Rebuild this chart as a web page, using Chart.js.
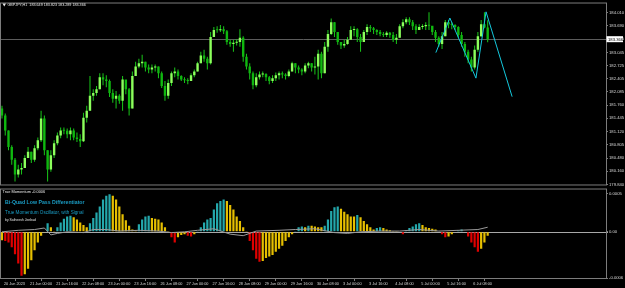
<!DOCTYPE html>
<html>
<head>
<meta charset="utf-8">
<script src="https://cdn.jsdelivr.net/npm/chart.js@4"></script>
<style>
  html, body { margin: 0; padding: 0; background: #000; width: 625px; height: 288px; overflow: hidden; }
  canvas { position: absolute; left: 0; }
  #main { top: 0; }
  #sub { top: 186px; }
</style>
</head>
<body>
<canvas id="main" width="625" height="188"></canvas>
<canvas id="sub" width="625" height="102"></canvas>
<script>
(() => {
  "use strict";

// ---- data (GBPJPY H1) ----
const symbol = "GBPJPY";
const period = "H1";

const opens = [
  181.68, 181.51, 181.15, 180.75, 180.44, 180.08, 180.20, 180.24, 180.48, 180.63,
  180.44, 180.72, 180.91, 181.44, 180.67, 180.20, 180.55, 180.84, 181.03, 181.15,
  181.14, 181.06, 181.15, 180.98, 180.94, 180.89, 181.46, 181.63, 181.99, 182.06,
  182.15, 182.44, 182.39, 182.35, 182.06, 181.92, 181.99, 181.87, 182.39, 182.15,
  181.68, 182.47, 182.70, 182.78, 182.82, 182.68, 182.63, 182.68, 182.70, 182.54,
  182.23, 181.99, 182.30, 182.54, 182.58, 182.47, 182.39, 182.37, 182.35, 182.49,
  182.58, 182.78, 182.97, 182.89, 182.78, 183.42, 183.59, 183.58, 183.61, 183.56,
  183.30, 183.25, 183.28, 183.30, 183.40, 182.94, 182.70, 182.54, 182.25, 182.44,
  182.51, 182.52, 182.44, 182.35, 182.42, 182.49, 182.54, 182.51, 182.47, 182.58,
  182.78, 182.68, 182.63, 182.58, 182.73, 182.78, 182.68, 182.70, 183.01, 182.54,
  183.18, 183.49, 183.78, 183.54, 183.30, 183.21, 183.25, 183.35, 183.59, 183.61,
  183.42, 183.30, 183.54, 183.66, 183.63, 183.59, 183.54, 183.49, 183.47, 183.52,
  183.47, 183.35, 183.40, 183.68, 183.78, 183.85, 183.78, 183.68, 183.59, 183.66,
  183.68, 183.71, 183.69, 183.54, 183.40, 183.25, 183.44, 183.78, 183.73, 183.71,
  183.66, 183.47, 183.25, 183.06, 182.87, 182.68, 183.11, 183.44, 183.73, 183.649
];
const highs = [
  181.75, 181.56, 181.15, 180.79, 180.48, 180.32, 180.36, 180.55, 180.75, 180.63,
  180.79, 180.98, 181.63, 181.51, 180.67, 180.67, 180.91, 181.10, 181.22, 181.22,
  181.20, 181.22, 181.20, 181.10, 181.06, 181.58, 181.75, 182.47, 182.15, 182.23,
  182.54, 182.54, 182.49, 182.39, 182.15, 182.11, 182.03, 182.47, 182.27, 182.18,
  182.58, 182.82, 182.89, 182.99, 182.82, 182.75, 182.75, 182.75, 182.70, 182.58,
  182.35, 182.39, 182.58, 182.68, 182.63, 182.49, 182.44, 182.42, 182.54, 182.63,
  182.82, 183.06, 183.11, 182.94, 183.54, 183.66, 183.68, 183.71, 183.68, 183.59,
  183.35, 183.35, 183.37, 183.61, 183.44, 183.01, 182.78, 182.58, 182.54, 182.58,
  182.58, 182.54, 182.47, 182.49, 182.56, 182.58, 182.58, 182.54, 182.63, 182.82,
  182.78, 182.73, 182.66, 182.78, 182.82, 182.78, 182.94, 183.11, 183.06, 183.30,
  183.59, 183.87, 183.78, 183.54, 183.30, 183.35, 183.42, 183.68, 183.68, 183.63,
  183.49, 183.59, 183.73, 183.71, 183.66, 183.61, 183.59, 183.54, 183.56, 183.54,
  183.54, 183.49, 183.73, 183.85, 183.90, 183.90, 183.83, 183.73, 183.73, 183.73,
  183.78, 184.02, 183.68, 183.59, 183.44, 183.54, 183.83, 183.83, 183.78, 183.73,
  183.68, 183.54, 183.30, 183.11, 182.94, 183.21, 183.54, 183.83, 184.02, 183.823
];
const lows = [
  181.44, 181.03, 180.67, 180.32, 179.91, 180.01, 180.08, 180.27, 180.48, 180.36,
  180.39, 180.67, 180.87, 180.55, 179.91, 180.15, 180.48, 180.79, 180.96, 181.06,
  180.96, 180.91, 180.91, 180.87, 180.75, 180.87, 181.34, 181.63, 181.87, 181.99,
  182.15, 182.25, 182.20, 181.96, 181.82, 181.68, 181.80, 181.63, 182.03, 181.51,
  181.68, 182.47, 182.66, 182.68, 182.58, 182.54, 182.54, 182.58, 182.42, 182.18,
  181.87, 181.92, 182.23, 182.44, 182.39, 182.35, 182.30, 182.27, 182.35, 182.44,
  182.58, 182.78, 182.82, 182.63, 182.75, 183.42, 183.52, 183.54, 183.49, 183.23,
  183.18, 183.06, 183.21, 183.18, 182.82, 182.63, 182.39, 182.15, 182.20, 182.39,
  182.44, 182.35, 182.27, 182.30, 182.35, 182.39, 182.42, 182.39, 182.44, 182.58,
  182.54, 182.54, 182.49, 182.54, 182.66, 182.58, 182.51, 182.39, 182.42, 182.54,
  183.06, 183.47, 183.42, 183.23, 183.13, 183.16, 183.23, 183.35, 183.44, 183.30,
  183.06, 183.30, 183.47, 183.54, 183.49, 183.47, 183.44, 183.42, 183.42, 183.40,
  183.30, 183.25, 183.40, 183.63, 183.73, 183.71, 183.59, 183.49, 183.59, 183.61,
  183.59, 183.59, 183.47, 183.30, 183.18, 183.13, 183.44, 183.63, 183.61, 183.59,
  183.40, 183.18, 182.94, 182.78, 182.58, 182.63, 183.06, 183.42, 183.63, 183.289
];
const closes = [
  181.51, 181.15, 180.75, 180.44, 180.08, 180.20, 180.24, 180.48, 180.63, 180.44,
  180.72, 180.91, 181.44, 180.67, 180.20, 180.55, 180.84, 181.03, 181.15, 181.14,
  181.06, 181.15, 180.98, 180.94, 180.89, 181.46, 181.63, 181.99, 182.06, 182.15,
  182.44, 182.39, 182.35, 182.06, 181.92, 181.99, 181.87, 182.39, 182.15, 181.68,
  182.47, 182.70, 182.78, 182.82, 182.68, 182.63, 182.68, 182.70, 182.54, 182.23,
  181.99, 182.30, 182.54, 182.58, 182.47, 182.39, 182.37, 182.35, 182.49, 182.58,
  182.78, 182.97, 182.89, 182.78, 183.42, 183.59, 183.58, 183.61, 183.56, 183.30,
  183.25, 183.28, 183.30, 183.40, 182.94, 182.70, 182.54, 182.25, 182.44, 182.51,
  182.52, 182.44, 182.35, 182.42, 182.49, 182.54, 182.51, 182.47, 182.58, 182.78,
  182.68, 182.63, 182.58, 182.73, 182.78, 182.68, 182.70, 183.01, 182.54, 183.18,
  183.49, 183.78, 183.54, 183.30, 183.21, 183.25, 183.35, 183.59, 183.61, 183.42,
  183.30, 183.54, 183.66, 183.63, 183.59, 183.54, 183.49, 183.47, 183.52, 183.47,
  183.35, 183.40, 183.68, 183.78, 183.85, 183.78, 183.68, 183.59, 183.66, 183.68,
  183.71, 183.69, 183.54, 183.40, 183.25, 183.44, 183.78, 183.73, 183.71, 183.66,
  183.47, 183.25, 183.06, 182.87, 182.68, 183.11, 183.44, 183.73, 183.649, 183.366
];

// zigzag (cyan) turning points: bar position and price
const zigzagBars = [133.1, 137.4, 145.4, 148.5, 156.5];
const zigzagPrices = [183.04, 183.88, 182.42, 184.03, 181.97];

// oscillator histogram, one value per bar
const momentum = [
  -0.00011, -0.00012, -0.00014, -0.00020, -0.00029, -0.00041, -0.00057, -0.00055, -0.00048, -0.00037,
  -0.00024, -0.00014, -0.00005, -0.00001, 0.00011, 0.00006, 0.00001, 0.00006, 0.00012, 0.00017,
  0.00020, 0.00021, 0.00019, 0.00016, 0.00012, 0.00009, 0.00006, 0.00011, 0.00018, 0.00025,
  0.00033, 0.00042, 0.00047, 0.00049, 0.00047, 0.00042, 0.00033, 0.00023, 0.00015, 0.00008,
  0.00003, 0.00002, 0.00010, 0.00016, 0.00020, 0.00021, 0.00018, 0.00017, 0.00016, 0.00012,
  0.00006, 0.00001, -0.00007, -0.00014, -0.00007, -0.00004, -0.00003, -0.00005, -0.00006, -0.00003,
  0.00001, 0.00006, 0.00012, 0.00016, 0.00018, 0.00029, 0.00037, 0.00040, 0.00042, 0.00040,
  0.00035, 0.00029, 0.00020, 0.00014, 0.00006, 0.00001, -0.00012, -0.00024, -0.00035, -0.00039,
  -0.00038, -0.00034, -0.00032, -0.00030, -0.00026, -0.00022, -0.00018, -0.00012, -0.00007, -0.00003,
  0.00001, 0.00006, 0.00007, 0.00006, 0.00008, 0.00008, 0.00007, 0.00006, 0.00006, 0.00008,
  0.00016, 0.00027, 0.00032, 0.00033, 0.00030, 0.00026, 0.00023, 0.00020, 0.00020, 0.00022,
  0.00019, 0.00014, 0.00010, 0.00006, 0.00003, 0.00005, 0.00006, 0.00005, 0.00003, 0.00002,
  0.00001, 0.00001, 0.00000, -0.00003, 0.00002, 0.00005, 0.00007, 0.00010, 0.00011, 0.00009,
  0.00006, 0.00005, 0.00004, 0.00003, 0.00000, -0.00003, -0.00007, -0.00006, -0.00003, 0.00000,
  0.00002, 0.00003, 0.00000, -0.00006, -0.00014, -0.00020, -0.00026, -0.00022, -0.00014, -0.00005
];

// signal line (thin grey), sampled at these bars
const signalBars = [0, 5, 10, 13, 15, 17, 20, 25, 28, 32, 36, 42, 48, 52, 56, 60, 65, 70, 74, 78, 85, 90, 96, 102, 106, 110, 116, 122, 128, 134, 140, 146, 149];
const signalVals = [0, 0.00002, 0.00003, 0.00005, -0.00004, -0.00002, 0, -0.00001, 0.00003, 0.00003, 0.00001, 0.00002, 0.00001, -0.00001, 0, 0.00002, 0.00004, -0.00003, -0.00005, 0.00001, 0.00002, 0.00003, 0.00004, -0.00001, -0.00002, 0, 0.00001, 0.00001, 0.00003, 0.00001, 0.00002, 0.00003, 0.00006];

// axis ticks
const priceTicks = [184.010, 183.690, 183.365, 183.045, 182.725, 182.405, 182.085, 181.760, 181.445, 181.120, 180.805, 180.480, 180.160, 179.840];
const subTicks = [0.0005, 0, -0.0006];
const subTickLabels = ["0.0005", "0.00", "-0.0006"];
const timeTickBars = [0, 8, 16, 24, 32, 40, 48, 56, 64, 72, 80, 88, 96, 104, 112, 120, 128, 136, 144];
const timeTickLabels = [
  "20 Jun 2023", "21 Jun 00:00", "21 Jun 16:00", "22 Jun 08:00", "23 Jun 00:00", "23 Jun 16:00",
  "26 Jun 08:00", "27 Jun 00:00", "27 Jun 16:00", "28 Jun 08:00", "29 Jun 00:00", "29 Jun 16:00",
  "30 Jun 08:00", "3 Jul 00:00", "3 Jul 16:00", "4 Jul 08:00", "5 Jul 00:00", "5 Jul 16:00", "6 Jul 08:00"
];

// ---- look ----
const X_MIN = -0.3, X_MAX = 185.3;
const PRICE_MIN = 179.838, PRICE_MAX = 184.232;
const GRAY = "#7c7c7c";
const TXT = "#d8d8d8";
const FAM = '"Liberation Sans", Arial, sans-serif';
const UP = "#8cff5c", DOWN = "#0fb80f", WICK = "#19c819";
const TEAL = "#24a8ac", GOLD = "#e6bf00", RED = "#e00000";
const CYAN = "#14c8dc", TITLE = "#1a9cc4";

const last = closes.length - 1;
const lastPrice = closes[last];
const font = (size, weight = "") => `${weight} ${size}px ${FAM}`.trim();

function frame(ctx, a) {
  ctx.strokeStyle = GRAY;
  ctx.lineWidth = 1;
  ctx.strokeRect(a.left - 0.5, a.top - 0.5, a.right - a.left + 1, a.bottom - a.top + 1);
}

const mainDecor = {
  id: "mainDecor",
  beforeDatasetsDraw(chart) {
    const { ctx, chartArea: a, scales: { y } } = chart;
    const py = Math.round(y.getPixelForValue(lastPrice)) + 0.5;
    ctx.save();
    ctx.strokeStyle = "#5c5c5c";
    ctx.lineWidth = 1;
    ctx.beginPath();
    ctx.moveTo(a.left, py);
    ctx.lineTo(a.right, py);
    ctx.stroke();
    ctx.restore();
  },
  afterDraw(chart) {
    const { ctx, chartArea: a, scales: { y } } = chart;
    ctx.save();
    frame(ctx, a);

    // header: symbol + OHLC of the last bar
    ctx.fillStyle = "#e8e8e8";
    ctx.beginPath();
    ctx.moveTo(2.5, 3.5); ctx.lineTo(6, 3.5); ctx.lineTo(4.25, 6.5);
    ctx.fill();
    ctx.font = font(3.7);
    ctx.textBaseline = "middle";
    const hdr = `${symbol},${period}  ${opens[last].toFixed(3)} ${highs[last].toFixed(3)} ${lows[last].toFixed(3)} ${closes[last].toFixed(3)}`;
    ctx.fillText(hdr, 7.5, 5);

    // bid label box on the price axis
    const py = y.getPixelForValue(lastPrice);
    ctx.fillStyle = "#ffffff";
    ctx.fillRect(a.right + 0.5, py - 3, 16.5, 6);
    ctx.fillStyle = "#000";
    ctx.font = font(4.2);
    ctx.fillText(lastPrice.toFixed(3), a.right + 2, py + 0.3);
    ctx.restore();
  }
};

const subDecor = {
  id: "subDecor",
  beforeDatasetsDraw(chart) {
    const { ctx, chartArea: a, scales: { y } } = chart;
    const py = Math.round(y.getPixelForValue(0)) + 0.5;
    ctx.save();
    ctx.strokeStyle = "#a8a8a8";
    ctx.lineWidth = 1;
    ctx.beginPath();
    ctx.moveTo(a.left, py);
    ctx.lineTo(a.right + 2, py);
    ctx.stroke();
    ctx.restore();
  },
  afterDraw(chart) {
    const { ctx, chartArea: a } = chart;
    ctx.save();
    frame(ctx, a);
    ctx.textBaseline = "middle";
    ctx.fillStyle = "#e8e8e8";
    ctx.font = font(3.9);
    ctx.fillText("True Momentum -0.0006", 2.5, a.top + 2.5);
    ctx.fillStyle = TITLE;
    ctx.font = font(5.2, "bold");
    ctx.fillText("Bi-Quad Low Pass Differentiator", 5, a.top + 13.5);
    ctx.font = font(4.6);
    ctx.fillText("True Momentum Oscillator, with Signal", 5, a.top + 23.5);
    ctx.fillStyle = "#e0e0e0";
    ctx.font = font(3.4);
    ctx.fillText("by Satheesh Jeebad", 5, a.top + 30.5);
    ctx.restore();
  }
};

function histColor(i) {
  const v = momentum[i];
  const prev = i > 0 ? momentum[i - 1] : v;
  if (v >= 0) return v > prev ? TEAL : GOLD;
  return v < prev ? RED : GOLD;
}

// ---- main price panel ----
new Chart(document.getElementById("main"), {
  type: "bar",
  data: {
    datasets: [
      {
        type: "line",
        data: zigzagBars.map((b, i) => ({ x: b, y: zigzagPrices[i] })),
        borderColor: CYAN, borderWidth: 1, pointRadius: 0, order: 0
      },
      {
        data: opens.map((o, i) => ({ x: i, y: [o, closes[i]] })),
        backgroundColor: (c) => closes[c.dataIndex] >= opens[c.dataIndex] ? UP : DOWN,
        barThickness: 2.4, grouped: false, minBarLength: 1, inflateAmount: 0, order: 1
      },
      {
        data: lows.map((l, i) => ({ x: i, y: [l, highs[i]] })),
        backgroundColor: WICK,
        barThickness: 1, grouped: false, inflateAmount: 0, order: 2
      }
    ]
  },
  options: {
    responsive: false,
    animation: false,
    layout: { padding: { left: 1, top: 1, right: 0, bottom: 3 } },
    plugins: { legend: { display: false }, tooltip: { enabled: false } },
    scales: {
      x: { type: "linear", min: X_MIN, max: X_MAX, offset: false, display: false },
      y: {
        position: "right", min: PRICE_MIN, max: PRICE_MAX,
        afterBuildTicks: (s) => { s.ticks = priceTicks.map((v) => ({ value: v })); },
        afterFit: (s) => { s.width = 19; },
        grid: { drawOnChartArea: false, tickLength: 2, color: GRAY },
        border: { color: GRAY },
        ticks: { color: TXT, font: { size: 4.2, family: FAM }, padding: 1, autoSkip: false, callback: (v) => Number(v).toFixed(3) }
      }
    }
  },
  plugins: [mainDecor]
});

// ---- oscillator sub-window ----
new Chart(document.getElementById("sub"), {
  type: "bar",
  data: {
    datasets: [
      {
        type: "line",
        data: signalBars.map((b, i) => ({ x: b, y: signalVals[i] })),
        borderColor: "#9a9a9a", borderWidth: 1, pointRadius: 0, order: 0
      },
      {
        data: momentum.map((v, i) => ({ x: i, y: v })),
        backgroundColor: (c) => histColor(c.dataIndex),
        barThickness: 2.2, grouped: false, inflateAmount: 0, order: 1
      }
    ]
  },
  options: {
    responsive: false,
    animation: false,
    layout: { padding: { left: 1, top: 2, right: 0, bottom: 0 } },
    plugins: { legend: { display: false }, tooltip: { enabled: false } },
    scales: {
      x: {
        type: "linear", min: X_MIN, max: X_MAX, offset: false, position: "bottom",
        afterBuildTicks: (s) => { s.ticks = timeTickBars.map((v) => ({ value: v })); },
        afterFit: (s) => { s.height = 10; },
        grid: { drawOnChartArea: false, tickLength: 3, color: GRAY },
        border: { color: GRAY },
        ticks: {
          color: TXT, font: { size: 3.8, family: FAM }, align: "start", labelOffset: 2, padding: 1,
          maxRotation: 0, autoSkip: false, callback: (v, i) => timeTickLabels[i]
        }
      },
      y: {
        position: "right", min: -0.0006, max: 0.00055,
        afterBuildTicks: (s) => { s.ticks = subTicks.map((v) => ({ value: v })); },
        afterFit: (s) => { s.width = 19; },
        grid: { drawOnChartArea: false, tickLength: 2, color: GRAY },
        border: { color: GRAY },
        ticks: { color: TXT, font: { size: 4.2, family: FAM }, padding: 1, autoSkip: false, callback: (v, i) => subTickLabels[i] }
      }
    }
  },
  plugins: [subDecor]
});
})();
</script>
</body>
</html>
